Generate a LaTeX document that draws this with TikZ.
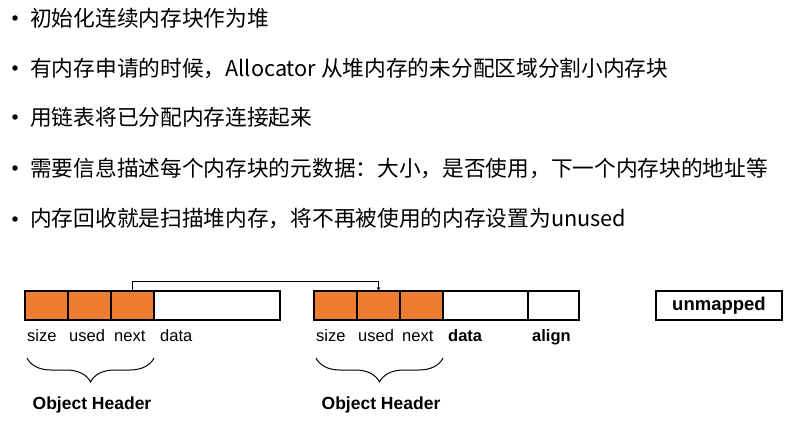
\documentclass[tikz,border=0pt]{standalone}
\usepackage{fontspec}
\setmainfont{Noto Sans CJK SC}
\newfontfamily\lblfont{Liberation Sans}
\usetikzlibrary{decorations.pathreplacing,arrows.meta}
\definecolor{hdrorange}{HTML}{ED7D31}
\tikzset{
  bullet line/.style={anchor=west,inner sep=0pt,font=\fontsize{21.7}{21.7}\selectfont},
  bullet dot/.style={circle,fill,inner sep=0pt,minimum size=5.5pt},
  cell/.style={draw,line width=1.2pt,minimum height=29pt,inner sep=0pt,outer sep=0pt,anchor=north west},
  hdr cell/.style={cell,fill=hdrorange,minimum width=43pt},
  field label/.style={anchor=base west,inner sep=0pt,font=\lblfont\fontsize{16.5}{16.5}\selectfont},
  bold label/.style={field label,font=\lblfont\bfseries\fontsize{16.5}{16.5}\selectfont},
  header label/.style={inner sep=0pt,font=\lblfont\bfseries\fontsize{17.5}{17.5}\selectfont},
  header brace/.style={decorate,decoration={brace,amplitude=24pt},line width=1pt},
}

\begin{document}
\begin{tikzpicture}[x=1pt,y=-1pt]
    \useasboundingbox[fill=white] (0,0) rectangle (795,425);
    % bullet points
    \foreach \txt/\ypos [count=\i] in {{初始化连续内存块作为堆}/18,
        {有内存申请的时候，Allocator 从堆内存的未分配区域分割小内存块}/68,
        {用链表将已分配内存连接起来}/117,
        {需要信息描述每个内存块的元数据：大小，是否使用，下一个内存块的地址等}/168,
        {内存回收就是扫描堆内存，将不再被使用的内存设置为unused}/219}
    {
      \node[bullet dot] (dot\i) at (15,\ypos) {};
      \node[bullet line] (line\i) at (30,\ypos) {\txt};
    }
    % first block
    \node[hdr cell] (size1) at (25,291) {};
    \node[hdr cell] (used1) at (size1.north east) {};
    \node[hdr cell] (next1) at (used1.north east) {};
    \node[cell,minimum width=126pt] (data1) at (next1.north east) {};
    % second block
    \node[hdr cell] (size2) at (314,291) {};
    \node[hdr cell] (used2) at (size2.north east) {};
    \node[hdr cell] (next2) at (used2.north east) {};
    \node[cell,minimum width=85pt] (data2) at (next2.north east) {};
    \node[cell,minimum width=51pt] (align2) at (data2.north east) {};
    % unmapped
    \node[cell,minimum width=126pt,anchor=center,font=\lblfont\bfseries\fontsize{18.5}{18.5}\selectfont] (unmapped) at (719,305.5) {unmapped};
    % next pointer
    \coordinate (ptr) at ([yshift=10pt]next1.north);
    \draw[line width=0.8pt,-{Stealth[length=4pt,width=3.5pt]}] (next1.north) -- (ptr) -| (used2.north);
    % labels
    \node[field label] (lsize1) at (27,341) {size};
    \node[field label] (lused1) at (69,341) {used};
    \node[field label] (lnext1) at (114,341) {next};
    \node[field label] (ldata1) at (160,341) {data};
    \node[field label] (lsize2) at (316,341) {size};
    \node[field label] (lused2) at (358,341) {used};
    \node[field label] (lnext2) at (402,341) {next};
    \node[bold label] (ldata2) at (448,341) {data};
    \node[bold label] (lalign2) at (532,341) {align};
    % braces
    \draw[header brace] (154,358) -- (27,358);
    \draw[header brace] (443,358) -- (316,358);
    \node[header label] (hdr1) at (92,405) {Object Header};
    \node[header label] (hdr2) at (381,405) {Object Header};
\end{tikzpicture}
\end{document}
